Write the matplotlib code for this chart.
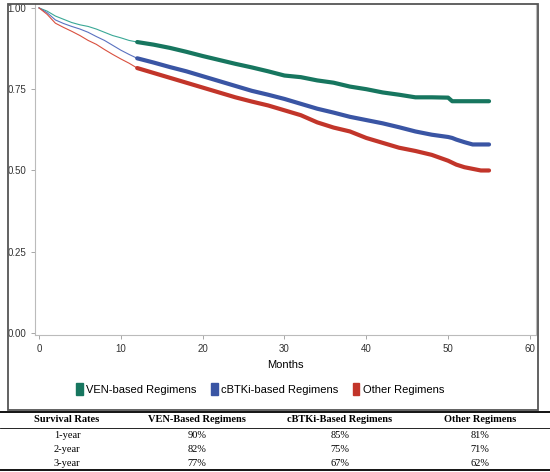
import matplotlib
matplotlib.use("Agg")
import matplotlib.pyplot as plt
from matplotlib.patches import Rectangle, Patch
from matplotlib.lines import Line2D

# --- 読み取った生存曲線 (months, survival) ---
months_early = [0, 1, 2, 3, 4, 5, 6, 7, 8, 9, 10, 11, 12]
ven_early = [1.0, 0.99, 0.975, 0.965, 0.955, 0.948, 0.943, 0.935, 0.925, 0.915, 0.908, 0.90, 0.895]
btk_early = [1.0, 0.985, 0.963, 0.952, 0.943, 0.935, 0.925, 0.912, 0.90, 0.885, 0.87, 0.857, 0.845]
oth_early = [1.0, 0.98, 0.953, 0.94, 0.928, 0.915, 0.90, 0.888, 0.872, 0.857, 0.843, 0.83, 0.815]

months_late = [12, 14, 16, 18, 20, 22, 24, 26, 28, 30, 32, 34, 36, 38, 40, 42, 44, 46, 48,
               50, 50.5, 51, 52, 53, 54, 55]
ven_late = [0.895, 0.887, 0.877, 0.865, 0.852, 0.84, 0.828, 0.817, 0.805, 0.792, 0.787, 0.777,
            0.77, 0.758, 0.75, 0.74, 0.733, 0.725, 0.725, 0.724, 0.713, 0.713, 0.713, 0.713,
            0.713, 0.713]
btk_late = [0.845, 0.832, 0.818, 0.805, 0.79, 0.775, 0.76, 0.745, 0.733, 0.72, 0.705, 0.69,
            0.678, 0.665, 0.655, 0.645, 0.633, 0.62, 0.61, 0.603, 0.60, 0.595, 0.587, 0.58,
            0.58, 0.58]
oth_late = [0.815, 0.80, 0.785, 0.77, 0.755, 0.74, 0.725, 0.712, 0.70, 0.685, 0.67, 0.648,
            0.632, 0.62, 0.60, 0.585, 0.57, 0.56, 0.548, 0.53, 0.524, 0.518, 0.51, 0.505,
            0.50, 0.50]

labels = ["VEN-based Regimens", "cBTKi-based Regimens", "Other Regimens"]
colors = ["#17765F", "#3A55A4", "#C2352A"]
thin_colors = ["#3AA896", "#5A72C0", "#D9503F"]

# --- 表 ---
table_header = ["Survival Rates", "VEN-Based Regimens", "cBTKi-Based Regimens", "Other Regimens"]
table_rows = [["1-year", "90%", "85%", "81%"],
              ["2-year", "82%", "75%", "71%"],
              ["3-year", "77%", "67%", "62%"]]

W, H = 550, 472
fig = plt.figure(figsize=(W / 100, H / 100), dpi=100)
ax = fig.add_axes([35 / W, 1 - 335 / H, (536 - 35) / W, (335 - 4) / H])

for early, late, c, tc in zip([ven_early, btk_early, oth_early],
                              [ven_late, btk_late, oth_late], colors, thin_colors):
    ax.plot(months_early, early, color=tc, lw=0.8)
    ax.plot(months_late, late, color=c, lw=3.0, solid_capstyle="round", solid_joinstyle="round")

ax.set_xlim(-0.49, 60.74)
ax.set_ylim(-0.006, 1.012)
ax.set_xticks(range(0, 61, 10))
ax.set_yticks([0, 0.25, 0.5, 0.75, 1.0])
ax.set_yticklabels(["0.00", "0.25", "0.50", "0.75", "1.00"])
ax.tick_params(labelsize=7, labelcolor="#333333", color="#999999", length=3, width=0.6)
for s in ax.spines.values():
    s.set_color("#bbbbbb")
    s.set_linewidth(0.8)
ax.spines["top"].set_visible(False)
ax.set_xlabel("Months", fontsize=8, fontfamily="Liberation Sans", labelpad=4)
for t in ax.get_xticklabels() + ax.get_yticklabels():
    t.set_fontfamily("Liberation Sans")

# 凡例
handles = [Patch(facecolor=c, edgecolor=c) for c in colors]
leg = fig.legend(handles, labels, loc="center", bbox_to_anchor=(260 / W, 1 - 389 / H),
                 ncol=3, frameon=False, prop={"family": "Liberation Sans", "size": 8},
                 handlelength=0.6, handleheight=1.3, handletextpad=0.3, columnspacing=1.3)

# 外枠
fig.add_artist(Rectangle((8 / W, 1 - 410 / H), (538 - 8) / W, (410 - 4) / H,
                         transform=fig.transFigure, fill=False, edgecolor="#555555", lw=1.3))

# 表の罫線
fig.add_artist(Line2D([0, 1], [1 - 412 / H] * 2, transform=fig.transFigure, color="black", lw=1.3))
fig.add_artist(Line2D([0, 1], [1 - 428 / H] * 2, transform=fig.transFigure, color="black", lw=0.6))
fig.add_artist(Line2D([0, 1], [1 - 470 / H] * 2, transform=fig.transFigure, color="black", lw=1.3))

col_x = [67, 197, 340, 480]
for x, h in zip(col_x, table_header):
    fig.text(x / W, 1 - 420 / H, h, ha="center", va="center", fontsize=7.5,
             fontweight="bold", fontfamily="Liberation Serif")
for i, row in enumerate(table_rows):
    y = 435 + i * 14
    for x, v in zip(col_x, row):
        fig.text(x / W, 1 - y / H, v, ha="center", va="center", fontsize=7.5,
                 fontfamily="Liberation Serif")

fig.savefig("out.png", dpi=100)
